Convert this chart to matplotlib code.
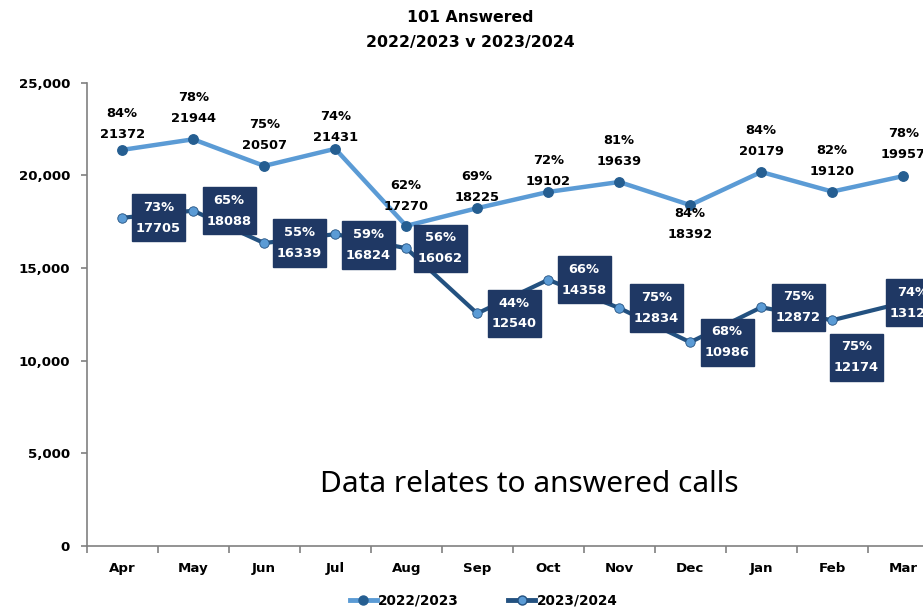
import matplotlib
matplotlib.use("Agg")
import matplotlib.pyplot as plt
from matplotlib.lines import Line2D
from matplotlib.path import Path

# ---- data ----
months = ["Apr", "May", "Jun", "Jul", "Aug", "Sep", "Oct", "Nov", "Dec", "Jan", "Feb", "Mar"]
answered_2223 = [21372, 21944, 20507, 21431, 17270, 18225, 19102, 19639, 18392, 20179, 19120, 19957]
pct_2223 = [84, 78, 75, 74, 62, 69, 72, 81, 84, 84, 82, 78]
answered_2324 = [17705, 18088, 16339, 16824, 16062, 12540, 14358, 12834, 10986, 12872, 12174, 13120]
pct_2324 = [73, 65, 55, 59, 56, 44, 66, 75, 68, 75, 75, 74]
series_names = ["2022/2023", "2023/2024"]
yticks = [0, 5000, 10000, 15000, 20000, 25000]

# ---- layout (label offsets in pixels) ----
light_dy = [26, 31, 31, 22, 30, 21.5, 21, 31, -19, 31, 30.6, 32]
dark_off = [(36, 0), (36, 0), (35, 0), (33, -11), (34, 0), (37, 0), (36, 0),
            (37, 0), (37, 0), (37, 0), (24, -37), (9, 0)]

C_LIGHT = "#5B9BD5"
C_LIGHT_MK = "#255E91"
C_DARK = "#235180"
C_DARK_MK = "#5B9BD5"
C_BOX = "#1F3864"

plt.rcParams["font.family"] = ["DejaVu Sans"]


def label_box(x0, y0, width, height, mutation_size):
    px = 0.30 * mutation_size
    py = 0.52 * mutation_size
    xa, xb = x0 - px, x0 + width + px
    ya, yb = y0 - py, y0 + height + py
    return Path([(xa, ya), (xb, ya), (xb, yb), (xa, yb), (xa, ya)],
                [Path.MOVETO, Path.LINETO, Path.LINETO, Path.LINETO, Path.CLOSEPOLY])


W, H = 923, 607
fig = plt.figure(figsize=(W / 100, H / 100), dpi=100)
left, bottom, top = 86.7, 545.7, 82.7
width = 71.0 * 12
ax = fig.add_axes([left / W, 1 - bottom / H, width / W, (bottom - top) / H])

x = list(range(len(months)))
ax.plot(x, answered_2223, color=C_LIGHT, lw=3.2, marker="o", ms=6.8,
        mfc=C_LIGHT_MK, mec=C_LIGHT_MK, zorder=3, clip_on=False)
ax.plot(x, answered_2324, color=C_DARK, lw=3.0, marker="o", ms=6.8,
        mfc=C_DARK_MK, mec=C_DARK, mew=0.6, zorder=4, clip_on=False)

ax.set_xlim(-0.5, len(months) - 0.5)
ax.set_ylim(0, 25000)
ax.set_yticks(yticks)
ax.set_yticklabels([f"{v:,}" for v in yticks])
ax.set_xticks(x)
ax.set_xticklabels(months)
ax.set_xticks([i - 0.5 for i in range(len(months) + 1)], minor=True)

for s in ["top", "right"]:
    ax.spines[s].set_visible(False)
for s in ["left", "bottom"]:
    ax.spines[s].set_color("#808080")
    ax.spines[s].set_linewidth(1.2)

ax.tick_params(axis="x", which="major", length=0, pad=12)
ax.tick_params(axis="x", which="minor", length=5, width=1.2, color="#808080", direction="out")
ax.tick_params(axis="y", length=4, width=1.2, color="#808080", pad=8)
for lab in ax.get_xticklabels() + ax.get_yticklabels():
    lab.set_fontweight("bold")
    lab.set_fontsize(9.6)
    lab.set_color("black")

LBL = 9.4
# light series labels
for i, (v, p) in enumerate(zip(answered_2223, pct_2223)):
    ax.annotate(f"{p}%\n{v}", (i, v), xytext=(0, light_dy[i]), textcoords="offset pixels",
                ha="center", va="center", fontsize=LBL, fontweight="bold", color="black",
                linespacing=1.78, zorder=6, annotation_clip=False)

# dark series labels in boxes
for i, (v, p) in enumerate(zip(answered_2324, pct_2324)):
    dx, dy = dark_off[i]
    ax.annotate(f"{p}%\n{v}", (i, v), xytext=(dx, dy), textcoords="offset pixels",
                ha="center", va="center", fontsize=LBL, fontweight="bold", color="white",
                linespacing=1.78, zorder=7, annotation_clip=False,
                bbox=dict(boxstyle=label_box, fc=C_BOX, ec=C_BOX))

# note text
fig.text(529 / W, 1 - 485 / H, "Data relates to answered calls", ha="center", va="center",
         fontsize=21.5, color="black", family="Noto Sans")

# title
fig.text(470 / W, 1 - 17 / H, "101 Answered", ha="center", va="center",
         fontsize=11.3, fontweight="bold")
fig.text(470 / W, 1 - 42 / H, "2022/2023 v 2023/2024", ha="center", va="center",
         fontsize=11.3, fontweight="bold")

# legend
handles = [
    Line2D([], [], color=C_LIGHT, lw=3.5, marker="o", ms=6.5, mfc=C_LIGHT_MK, mec=C_LIGHT_MK),
    Line2D([], [], color=C_DARK, lw=3.5, marker="o", ms=6.5, mfc=C_DARK_MK, mec=C_DARK),
]
leg = fig.legend(handles, series_names, loc="center", bbox_to_anchor=(483.5 / W, 6 / H),
                 ncol=2, frameon=False, handlelength=2.0, handletextpad=0.1,
                 columnspacing=3.6, prop={"weight": "bold", "size": 9.8},
                 borderpad=0)

fig.savefig("out.png", dpi=100)
